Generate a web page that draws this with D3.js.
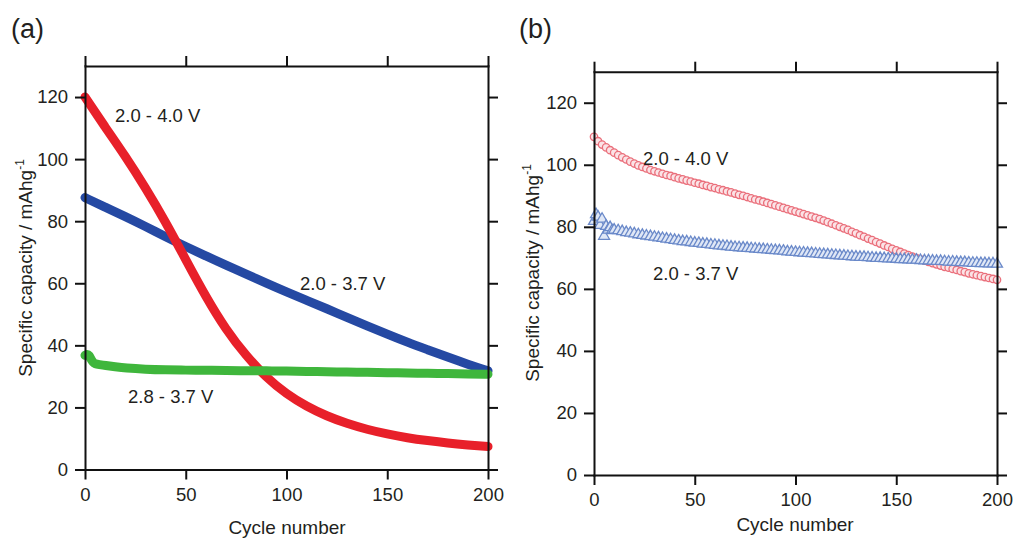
<!DOCTYPE html>
<html>
<head>
<meta charset="utf-8">
<script src="https://cdn.jsdelivr.net/npm/d3@7"></script>
<style>
  html, body { margin: 0; padding: 0; background: #fff; }
  svg { display: block; }
  text { font-family: "Liberation Sans", Arial, Helvetica, sans-serif; fill: #231f20; }
</style>
</head>
<body>
<svg id="chart" width="1016" height="538"></svg>
<script>
// ---------- Data ----------
// Shared axis ticks
const xTickValues = [0, 50, 100, 150, 200];
const yTickValues = [0, 20, 40, 60, 80, 100, 120];

// Panel (a): cycling at different voltage windows
const cyclesA = [0, 10, 20, 30, 40, 50, 60, 70, 80, 90, 100, 110, 120, 130, 140, 150, 160, 170, 180, 190, 200];
const capA_20_40 = [120, 110.3, 101, 90.8, 79.8, 67.6, 55.6, 45.0, 36.6, 29.6, 24.3, 20.3, 17.2, 14.8, 12.9, 11.4, 10.2, 9.3, 8.5, 7.9, 7.4];
const capA_20_37 = [87.6, 84.5, 81.5, 78.3, 75.0, 71.8, 68.8, 65.8, 63.0, 60.0, 57.2, 54.5, 51.8, 49.0, 46.3, 43.6, 41.0, 38.6, 36.2, 33.9, 31.8];
const cyclesA_28_37 = [0, 1, 2, 3, 4, 5, 7, 10, 15, 20, 30, 40, 50, 60, 70, 80, 90, 100, 110, 120, 130, 140, 150, 160, 170, 180, 190, 200];
const capA_28_37 = [36.8, 37.2, 36.9, 35.5, 34.5, 34.0, 33.8, 33.5, 33.1, 32.7, 32.3, 32.1, 32.0, 32.0, 31.9, 31.8, 31.8, 31.7, 31.6, 31.5, 31.4, 31.3, 31.2, 31.1, 31.0, 30.9, 30.8, 30.7];

// Panel (b): every second cycle
const cyclesB_20_40 = d3.range(0, 201, 2);
const capB_20_40 = [
  109.0, 107.6, 106.5, 105.6, 104.7, 103.9, 103.1, 102.4, 101.7, 101.0,
  100.4, 99.8, 99.3, 98.8, 98.3, 97.9, 97.5, 97.1, 96.7, 96.4,
  96.0, 95.6, 95.3, 94.9, 94.6, 94.2, 93.9, 93.5, 93.2, 92.8,
  92.5, 92.1, 91.8, 91.4, 91.1, 90.7, 90.3, 90.0, 89.6, 89.2,
  88.8, 88.5, 88.1, 87.7, 87.3, 86.9, 86.5, 86.1, 85.7, 85.3,
  84.9, 84.5, 84.1, 83.7, 83.3, 82.9, 82.5, 82.0, 81.5, 81.0,
  80.5, 80.0, 79.5, 79.0, 78.4, 77.9, 77.3, 76.8, 76.2, 75.7,
  75.1, 74.6, 74.0, 73.5, 72.9, 72.4, 71.9, 71.4, 70.9, 70.4,
  69.9, 69.5, 69.1, 68.7, 68.3, 67.9, 67.5, 67.1, 66.8, 66.4,
  66.1, 65.7, 65.4, 65.0, 64.7, 64.4, 64.1, 63.8, 63.5, 63.2,
  62.9
];
const cyclesB_20_37 = [0, 1, 2, 3, 4, 5, 6, 7, 8, 9].concat(d3.range(10, 201, 2));
const capB_20_37 = [
  81.8, 84.0, 83.2, 80.5, 82.5, 77.0, 80.2, 79.0, 79.8, 78.8,
  79.0, 78.8, 78.5, 78.2, 78.0, 77.8, 77.5, 77.3, 77.1, 76.9,
  76.7, 76.5, 76.3, 76.1, 75.9, 75.7, 75.5, 75.3, 75.2, 75.0,
  74.8, 74.7, 74.5, 74.4, 74.2, 74.1, 73.9, 73.8, 73.7, 73.5,
  73.4, 73.3, 73.2, 73.1, 73.0, 72.9, 72.8, 72.7, 72.6, 72.5,
  72.4, 72.3, 72.2, 72.0, 71.9, 71.8, 71.7, 71.6, 71.5, 71.4,
  71.3, 71.2, 71.1, 71.0, 70.9, 70.8, 70.7, 70.6, 70.5, 70.4,
  70.3, 70.2, 70.2, 70.1, 70.0, 69.9, 69.9, 69.8, 69.7, 69.7,
  69.6, 69.5, 69.5, 69.4, 69.3, 69.3, 69.2, 69.1, 69.1, 69.0,
  68.9, 68.9, 68.8, 68.7, 68.7, 68.6, 68.5, 68.5, 68.4, 68.3,
  68.3, 68.2, 68.2, 68.1, 68.1, 68.0
];

const seriesLabels = ["2.0 - 4.0 V", "2.0 - 3.7 V", "2.8 - 3.7 V"];

// ---------- Drawing ----------
const FONT = '"Liberation Sans", Arial, Helvetica, sans-serif';
const svg = d3.select("#chart");

function zip(xs, ys) { return xs.map((c, i) => ({ c, v: ys[i] })); }

function drawFrame(g, x, y) {
  const [x0, x1] = x.range();
  const [yb, yt] = y.range();
  const style = sel => {
    sel.attr("font-size", 18.5).attr("font-family", FONT);
    sel.selectAll(".domain").attr("stroke", "#111").attr("stroke-width", 2).attr("stroke-linecap", "square");
    sel.selectAll(".tick line").attr("stroke", "#111").attr("stroke-width", 2);
    sel.selectAll(".tick text").attr("fill", "#231f20");
  };
  g.append("g").attr("transform", `translate(0,${yb})`)
    .call(d3.axisBottom(x).tickValues(xTickValues).tickSize(10).tickSizeOuter(0).tickPadding(8).tickFormat(d3.format("d")))
    .call(style);
  g.append("g").attr("transform", `translate(0,${yt})`)
    .call(d3.axisTop(x).tickValues(xTickValues).tickSize(10).tickSizeOuter(0).tickFormat(""))
    .call(style);
  g.append("g").attr("transform", `translate(${x0},0)`)
    .call(d3.axisLeft(y).tickValues(yTickValues).tickSize(10).tickSizeOuter(0).tickPadding(7).tickFormat(d3.format("d")))
    .call(style);
  g.append("g").attr("transform", `translate(${x1},0)`)
    .call(d3.axisRight(y).tickValues(yTickValues).tickSize(10).tickSizeOuter(0).tickFormat(""))
    .call(style);
}

function yTitle(g, cx, cy) {
  const t = g.append("text")
    .attr("transform", `translate(${cx},${cy}) rotate(-90)`)
    .attr("text-anchor", "middle")
    .attr("font-size", 19);
  t.append("tspan").text("Specific capacity / mAhg");
  t.append("tspan").attr("font-size", 12).attr("dy", -8).text("-1");
}

function xTitle(g, cx, by) {
  g.append("text").attr("x", cx).attr("y", by).attr("text-anchor", "middle")
    .attr("font-size", 19).text("Cycle number");
}

// ----- Panel (a) -----
const xA = d3.scaleLinear().domain([0, 200]).range([85, 488]);
const yA = d3.scaleLinear().domain([0, 130]).range([469.5, 66]);
const gA = svg.append("g");

const lineA = d3.line().x(d => xA(d.c)).y(d => yA(d.v)).curve(d3.curveBasis);
const seriesA = [
  { data: zip(cyclesA, capA_20_37), color: "#2549a3" },
  { data: zip(cyclesA, capA_20_40), color: "#e8202a" },
  { data: zip(cyclesA_28_37, capA_28_37), color: "#3fb63c" }
];
gA.selectAll("path.series").data(seriesA).join("path")
  .attr("class", "series")
  .attr("d", d => lineA(d.data))
  .attr("fill", "none")
  .attr("stroke", d => d.color)
  .attr("stroke-width", 9)
  .attr("stroke-linecap", "round")
  .attr("stroke-linejoin", "round");

drawFrame(gA, xA, yA);

gA.append("text").attr("x", 115).attr("y", 121.5).attr("font-size", 18.5).text(seriesLabels[0]);
gA.append("text").attr("x", 300).attr("y", 290).attr("font-size", 18.5).text(seriesLabels[1]);
gA.append("text").attr("x", 128).attr("y", 403).attr("font-size", 18.5).text(seriesLabels[2]);

gA.append("text").attr("x", 11).attr("y", 37.5).attr("font-size", 27).text("(a)");
yTitle(gA, 32, 268);
xTitle(gA, 287, 534);

// ----- Panel (b) -----
const xB = d3.scaleLinear().domain([0, 200]).range([594, 997]);
const yB = d3.scaleLinear().domain([0, 130]).range([475, 71.7]);
const gB = svg.append("g");

gB.append("g").selectAll("circle").data(zip(cyclesB_20_40, capB_20_40)).join("circle")
  .attr("cx", d => xB(d.c)).attr("cy", d => yB(d.v)).attr("r", 3.7)
  .attr("fill", "#fbe3e6").attr("stroke", "#ea6f7b").attr("stroke-width", 1.3);

const tri = d3.symbol().type(d3.symbolTriangle).size(52);
gB.append("g").selectAll("path").data(zip(cyclesB_20_37, capB_20_37)).join("path")
  .attr("transform", d => `translate(${xB(d.c)},${yB(d.v)})`)
  .attr("d", tri)
  .attr("fill", "#dfe7f6").attr("stroke", "#6a89c9").attr("stroke-width", 1.3);

drawFrame(gB, xB, yB);

gB.append("text").attr("x", 643).attr("y", 165).attr("font-size", 18.5).text(seriesLabels[0]);
gB.append("text").attr("x", 653).attr("y", 280).attr("font-size", 18.5).text(seriesLabels[1]);

gB.append("text").attr("x", 519).attr("y", 37.5).attr("font-size", 27).text("(b)");
yTitle(gB, 539, 273);
xTitle(gB, 795, 531);
</script>
</body>
</html>
